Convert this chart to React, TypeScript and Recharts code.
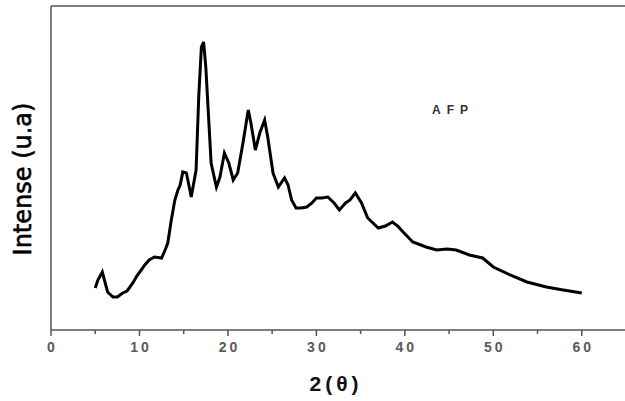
import React from "react";
import { Label, Line, LineChart, ReferenceLine, XAxis, YAxis } from "recharts";

// 2θ positions and intensities (arbitrary units)
const twoTheta = [
  5.0, 5.3, 5.8, 6.4, 7.0, 7.5, 8.1, 8.6, 9.25, 9.7, 10.2, 10.6, 11.1, 11.7, 12.5, 12.9, 13.2, 13.6,
  14.0, 14.35, 14.6, 14.9, 15.3, 15.7, 15.85, 16.2, 16.4, 16.7, 17.0, 17.25, 17.5, 17.75, 18.1, 18.7,
  19.1, 19.6, 20.1, 20.6, 21.1, 21.7, 22.3, 22.6, 23.1, 23.6, 24.15, 24.5, 25.1, 25.7, 26.4, 26.8,
  27.2, 27.7, 28.3, 28.9, 29.5, 30.0, 30.6, 31.3, 32.0, 32.6, 33.3, 33.8, 34.4, 35.1, 35.8, 36.4,
  37.0, 37.8, 38.6, 39.2, 39.8, 40.9, 42.4, 43.6, 44.8, 45.8, 47.3, 48.8, 50.0, 51.9, 53.8, 56.0,
  57.9, 60.0,
];
const intensity = [
  42, 50, 58, 38, 33, 33, 37, 39, 47, 54, 60, 65, 70, 73, 72, 80, 87, 110,
  130, 140, 145, 158, 157, 140, 133, 150, 160, 233, 283, 288, 263, 223, 167, 143,
  153, 177, 167, 150, 157, 187, 220, 207, 180, 197, 210, 193, 157, 143, 152, 145,
  130, 122, 122, 123, 127, 132, 132, 133, 127, 120, 127, 130, 137, 127, 112, 107,
  102, 104, 108, 104, 98, 88, 83, 80, 81, 80, 75, 72, 63, 55, 48, 43,
  40, 37,
];
const xTicks = [0, 5, 10, 15, 20, 25, 30, 35, 40, 45, 50, 55, 60];

const data = twoTheta.map((t, i) => ({ t, v: intensity[i] }));

const axisColor = "#555";

const XTick = (props: any) => {
  const { x, y, payload } = props;
  const major = payload.value % 10 === 0;
  return (
    <g>
      <line x1={x} x2={x} y1={y} y2={y + (major ? 6 : 4)} stroke={axisColor} strokeWidth={1.5} />
      {major && (
        <text
          x={x + 1.5}
          y={y + 22}
          textAnchor="middle"
          fontFamily="Liberation Sans, Arial, sans-serif"
          fontWeight="bold"
          fontSize={14}
          letterSpacing={3}
          fill="#5a5a5a"
        >
          {payload.value}
        </text>
      )}
    </g>
  );
};

export default function App() {
  return (
    <div style={{ position: "absolute", left: 0, top: 0, width: 625, height: 401, overflow: "hidden", background: "#fff" }}>
      <LineChart width={627} height={401} data={data} margin={{ top: 6, right: 1, left: 0, bottom: 0 }}>
        <XAxis
          dataKey="t"
          type="number"
          domain={[0, 65]}
          ticks={xTicks}
          interval={0}
          tickSize={0}
          tickMargin={0}
          tickLine={false}
          tick={<XTick />}
          height={71}
          axisLine={{ stroke: axisColor, strokeWidth: 1.5 }}
        >
          <Label
            content={() => (
              <text
                x={336}
                y={391}
                textAnchor="middle"
                fontFamily="Liberation Sans, Arial, sans-serif"
                fontWeight="bold"
                fontSize={21}
                letterSpacing={4}
                fill="#111"
              >
                2(θ)
              </text>
            )}
          />
        </XAxis>
        <YAxis
          type="number"
          domain={[0, 324]}
          tick={false}
          tickLine={false}
          width={51}
          axisLine={{ stroke: axisColor, strokeWidth: 1.5 }}
        >
          <Label
            content={() => (
              <text
                x={31}
                y={179}
                transform="rotate(-90 31 179)"
                textAnchor="middle"
                fontFamily="DejaVu Sans, sans-serif"
                fontSize={24}
                fill="#000"
                stroke="#000"
                strokeWidth={0.6}
              >
                Intense (u.a)
              </text>
            )}
          />
        </YAxis>
        <ReferenceLine y={324} stroke={axisColor} strokeWidth={1.5} />
        <ReferenceLine
          y={324}
          stroke="none"
          label={() => (
            <text
              x={432}
              y={113.5}
              fontFamily="Liberation Sans, Arial, sans-serif"
              fontWeight="bold"
              fontSize={12}
              letterSpacing={6}
              fill="#333"
            >
              AFP
            </text>
          )}
        />
        <Line
          type="linear"
          dataKey="v"
          stroke="#000"
          strokeWidth={3}
          dot={false}
          isAnimationActive={false}
        />
      </LineChart>
    </div>
  );
}
